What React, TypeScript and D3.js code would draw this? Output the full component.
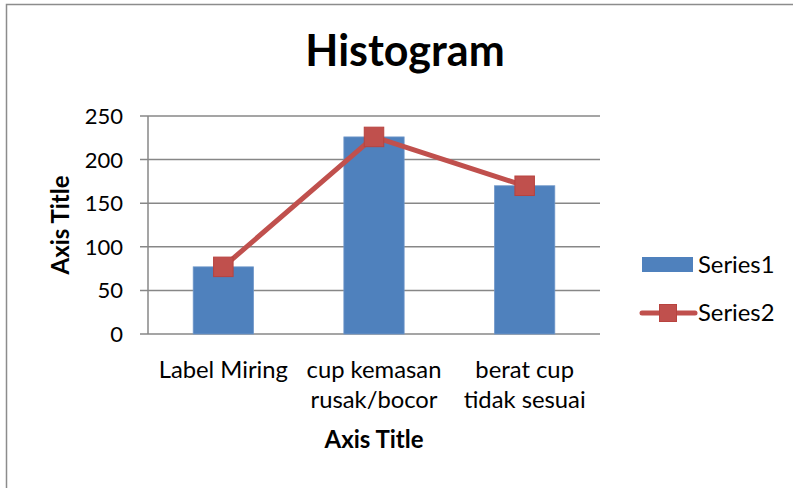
import React from "react";
import * as d3 from "d3";

const categories: string[][] = [
  ["Label Miring"],
  ["cup kemasan", "rusak/bocor"],
  ["berat cup", "tidak sesuai"],
];
const series1: number[] = [77, 226, 170];
const series2: number[] = [77, 226, 170];
const yTicks: number[] = [0, 50, 100, 150, 200, 250];
const seriesNames: string[] = ["Series1", "Series2"];

const W = 793;
const H = 488;
const FONT = "Lato, 'Open Sans', sans-serif";
const BAR = "#4F81BD";
const LINE = "#C0504D";
const GRID = "#878787";

export default function App() {
  const plot = { left: 148, right: 600, top: 116, bottom: 334 };
  const x = d3
    .scaleBand<number>()
    .domain(categories.map((_, i) => i))
    .range([plot.left, plot.right])
    .paddingInner(0.6)
    .paddingOuter(0.3);
  const xc = (i: number) => (x(i) as number) + x.bandwidth() / 2;
  const y = d3.scaleLinear().domain([0, 250]).range([plot.bottom, plot.top]);
  const line = d3
    .line<number>()
    .x((_, i) => xc(i))
    .y((d) => y(d));
  const msize = 19.5;
  const labelSize = 23.8;

  return (
    <svg
      width={W}
      height={H}
      style={{ position: "absolute", left: 0, top: 0, background: "#fff" }}
      fontFamily={FONT}
    >
      {/* chart frame */}
      <rect x={6.5} y={4.5} width={W + 10} height={H + 10} fill="#fff" stroke="#8c8c8c" strokeWidth={1.5} />

      <text x={405} y={66} textAnchor="middle" fontSize={43} fontWeight={700} fill="#000">
        Histogram
      </text>

      {/* gridlines and y ticks */}
      {yTicks.map((t) => (
        <g key={t}>
          <line x1={140} x2={plot.right} y1={y(t)} y2={y(t)} stroke={GRID} strokeWidth={1.5} />
          <text x={123} y={y(t) + 8} textAnchor="end" fontSize={22} fill="#000">
            {t}
          </text>
        </g>
      ))}
      <line x1={plot.left} x2={plot.left} y1={plot.top} y2={plot.bottom} stroke={GRID} strokeWidth={1.5} />

      {/* Series1 bars */}
      {series1.map((v, i) => (
        <rect
          key={i}
          x={x(i)}
          y={y(v)}
          width={x.bandwidth()}
          height={y(0) - y(v)}
          fill={BAR}
          stroke="#6f97c9"
          strokeWidth={0.8}
        />
      ))}

      {/* Series2 line with square markers */}
      <path d={line(series2) || ""} fill="none" stroke={LINE} strokeWidth={5} strokeLinejoin="round" />
      {series2.map((v, i) => (
        <rect
          key={i}
          x={xc(i) - msize / 2}
          y={y(v) - msize / 2}
          width={msize}
          height={msize}
          fill={LINE}
          stroke="#b8433f"
          strokeWidth={1}
        />
      ))}

      {/* category labels */}
      {categories.map((lines, i) => (
        <text key={i} x={xc(i)} y={378} textAnchor="middle" fontSize={labelSize} fill="#000">
          {lines.map((l, j) => (
            <tspan key={j} x={xc(i)} dy={j === 0 ? 0 : 30}>
              {l}
            </tspan>
          ))}
        </text>
      ))}

      <text x={374} y={448} textAnchor="middle" fontSize={24} fontWeight={700} fill="#000">
        Axis Title
      </text>
      <text
        transform={`translate(69,${(plot.top + plot.bottom) / 2}) rotate(-90)`}
        textAnchor="middle"
        fontSize={24}
        fontWeight={700}
        fill="#000"
      >
        Axis Title
      </text>

      {/* legend */}
      <rect x={642} y={257} width={51} height={15} fill={BAR} />
      <text x={698} y={273} fontSize={labelSize} fill="#000">
        {seriesNames[0]}
      </text>
      <line x1={642} x2={695} y1={313} y2={313} stroke={LINE} strokeWidth={5} strokeLinecap="round" />
      <rect x={659.5} y={304.5} width={17} height={17} fill={LINE} stroke="#b8433f" strokeWidth={1} />
      <text x={698} y={321} fontSize={labelSize} fill="#000">
        {seriesNames[1]}
      </text>
    </svg>
  );
}
